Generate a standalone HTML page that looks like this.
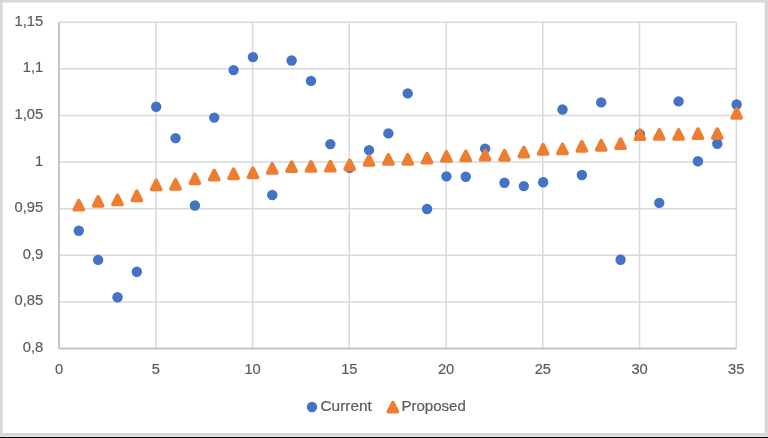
<!DOCTYPE html><html><head><meta charset="utf-8"><style>
html,body{margin:0;padding:0;background:#fff;}
svg{display:block;will-change:transform;}
text{font-family:"Liberation Sans",sans-serif;fill:#595959;font-size:15.5px;stroke:#595959;stroke-width:0.2px;}
</style></head><body>
<svg width="768" height="438" viewBox="0 0 768 438">
<rect x="0" y="0" width="768" height="438" fill="#d8d8d8"/>
<rect x="0" y="437" width="768" height="1" fill="#000"/>
<rect x="0" y="436" width="768" height="1" fill="#e8e8e8"/>
<rect x="2" y="2" width="763" height="431" fill="#e8e8e8"/>
<rect x="3" y="3" width="762" height="430" fill="#f4f4f4"/>
<rect x="3" y="3" width="761" height="430" fill="#fff"/>
<path d="M59.10 22.20H736.30M59.10 68.81H736.30M59.10 115.43H736.30M59.10 162.04H736.30M59.10 208.66H736.30M59.10 255.27H736.30M59.10 301.89H736.30M59.10 348.50H736.30M59.10 22.20V348.50M155.84 22.20V348.50M252.59 22.20V348.50M349.33 22.20V348.50M446.07 22.20V348.50M542.81 22.20V348.50M639.56 22.20V348.50M736.30 22.20V348.50" stroke="#d9d9d9" stroke-width="1.5" fill="none"/>
<path d="M59.10 22.20V348.50H736.30" stroke="#bfbfbf" stroke-width="1.5" fill="none"/>
<g opacity="0.99">
<text x="43.2" y="25.80" text-anchor="end" textLength="28.65" lengthAdjust="spacingAndGlyphs">1,15</text>
<text x="43.2" y="72.41" text-anchor="end" textLength="20.47" lengthAdjust="spacingAndGlyphs">1,1</text>
<text x="43.2" y="119.03" text-anchor="end" textLength="28.65" lengthAdjust="spacingAndGlyphs">1,05</text>
<text x="43.2" y="165.64" text-anchor="end" textLength="8.19" lengthAdjust="spacingAndGlyphs">1</text>
<text x="43.2" y="212.26" text-anchor="end" textLength="28.65" lengthAdjust="spacingAndGlyphs">0,95</text>
<text x="43.2" y="258.87" text-anchor="end" textLength="20.47" lengthAdjust="spacingAndGlyphs">0,9</text>
<text x="43.2" y="305.49" text-anchor="end" textLength="28.65" lengthAdjust="spacingAndGlyphs">0,85</text>
<text x="43.2" y="352.10" text-anchor="end" textLength="20.47" lengthAdjust="spacingAndGlyphs">0,8</text>
<text x="59.10" y="374.2" text-anchor="middle" textLength="8.19" lengthAdjust="spacingAndGlyphs">0</text>
<text x="155.84" y="374.2" text-anchor="middle" textLength="8.19" lengthAdjust="spacingAndGlyphs">5</text>
<text x="252.59" y="374.2" text-anchor="middle" textLength="16.37" lengthAdjust="spacingAndGlyphs">10</text>
<text x="349.33" y="374.2" text-anchor="middle" textLength="16.37" lengthAdjust="spacingAndGlyphs">15</text>
<text x="446.07" y="374.2" text-anchor="middle" textLength="16.37" lengthAdjust="spacingAndGlyphs">20</text>
<text x="542.81" y="374.2" text-anchor="middle" textLength="16.37" lengthAdjust="spacingAndGlyphs">25</text>
<text x="639.56" y="374.2" text-anchor="middle" textLength="16.37" lengthAdjust="spacingAndGlyphs">30</text>
<text x="736.30" y="374.2" text-anchor="middle" textLength="16.37" lengthAdjust="spacingAndGlyphs">35</text>
</g>
<g fill="#4472c4"><circle cx="78.80" cy="230.70" r="5.20"/><circle cx="98.15" cy="259.90" r="5.20"/><circle cx="117.50" cy="297.30" r="5.20"/><circle cx="136.84" cy="271.80" r="5.20"/><circle cx="156.19" cy="106.80" r="5.20"/><circle cx="175.54" cy="138.10" r="5.20"/><circle cx="194.89" cy="205.50" r="5.20"/><circle cx="214.24" cy="117.60" r="5.20"/><circle cx="233.59" cy="70.10" r="5.20"/><circle cx="252.94" cy="57.10" r="5.20"/><circle cx="272.28" cy="195.00" r="5.20"/><circle cx="291.63" cy="60.50" r="5.20"/><circle cx="310.98" cy="80.90" r="5.20"/><circle cx="330.33" cy="144.10" r="5.20"/><circle cx="349.68" cy="167.90" r="5.20"/><circle cx="369.03" cy="150.10" r="5.20"/><circle cx="388.38" cy="133.40" r="5.20"/><circle cx="407.72" cy="93.40" r="5.20"/><circle cx="427.07" cy="209.00" r="5.20"/><circle cx="446.42" cy="176.40" r="5.20"/><circle cx="465.77" cy="176.70" r="5.20"/><circle cx="485.12" cy="148.60" r="5.20"/><circle cx="504.47" cy="182.70" r="5.20"/><circle cx="523.82" cy="186.10" r="5.20"/><circle cx="543.16" cy="182.30" r="5.20"/><circle cx="562.51" cy="109.50" r="5.20"/><circle cx="581.86" cy="175.00" r="5.20"/><circle cx="601.21" cy="102.40" r="5.20"/><circle cx="620.56" cy="259.80" r="5.20"/><circle cx="639.91" cy="134.20" r="5.20"/><circle cx="659.26" cy="202.90" r="5.20"/><circle cx="678.60" cy="101.40" r="5.20"/><circle cx="697.95" cy="161.30" r="5.20"/><circle cx="717.30" cy="143.70" r="5.20"/><circle cx="736.65" cy="104.50" r="5.20"/></g>
<g fill="#ed7d31" stroke="#ed7d31" stroke-width="3.80" stroke-linejoin="round"><polygon points="78.80,200.75 83.25,209.65 74.35,209.65"/><polygon points="98.15,196.95 102.60,205.85 93.70,205.85"/><polygon points="117.50,195.55 121.95,204.45 113.05,204.45"/><polygon points="136.84,191.35 141.29,200.25 132.39,200.25"/><polygon points="156.19,180.55 160.64,189.45 151.74,189.45"/><polygon points="175.54,180.05 179.99,188.95 171.09,188.95"/><polygon points="194.89,174.35 199.34,183.25 190.44,183.25"/><polygon points="214.24,170.65 218.69,179.55 209.79,179.55"/><polygon points="233.59,169.35 238.04,178.25 229.14,178.25"/><polygon points="252.94,168.35 257.39,177.25 248.49,177.25"/><polygon points="272.28,164.05 276.73,172.95 267.83,172.95"/><polygon points="291.63,162.25 296.08,171.15 287.18,171.15"/><polygon points="310.98,162.05 315.43,170.95 306.53,170.95"/><polygon points="330.33,161.75 334.78,170.65 325.88,170.65"/><polygon points="349.68,160.45 354.13,169.35 345.23,169.35"/><polygon points="369.03,156.05 373.48,164.95 364.58,164.95"/><polygon points="388.38,155.05 392.83,163.95 383.93,163.95"/><polygon points="407.72,154.85 412.17,163.75 403.27,163.75"/><polygon points="427.07,153.75 431.52,162.65 422.62,162.65"/><polygon points="446.42,152.05 450.87,160.95 441.97,160.95"/><polygon points="465.77,151.55 470.22,160.45 461.32,160.45"/><polygon points="485.12,150.75 489.57,159.65 480.67,159.65"/><polygon points="504.47,150.85 508.92,159.75 500.02,159.75"/><polygon points="523.82,147.65 528.27,156.55 519.37,156.55"/><polygon points="543.16,144.85 547.61,153.75 538.71,153.75"/><polygon points="562.51,144.55 566.96,153.45 558.06,153.45"/><polygon points="581.86,141.95 586.31,150.85 577.41,150.85"/><polygon points="601.21,140.85 605.66,149.75 596.76,149.75"/><polygon points="620.56,139.15 625.01,148.05 616.11,148.05"/><polygon points="639.91,130.15 644.36,139.05 635.46,139.05"/><polygon points="659.26,130.05 663.71,138.95 654.81,138.95"/><polygon points="678.60,130.05 683.05,138.95 674.15,138.95"/><polygon points="697.95,129.25 702.40,138.15 693.50,138.15"/><polygon points="717.30,129.15 721.75,138.05 712.85,138.05"/><polygon points="736.65,108.95 741.10,117.85 732.20,117.85"/></g>
<circle cx="312" cy="407" r="5.20" fill="#4472c4"/>
<g opacity="0.99"><text x="320.5" y="411.2" textLength="51.3" lengthAdjust="spacingAndGlyphs">Current</text></g>
<polygon points="392.90,402.75 397.35,411.65 388.45,411.65" fill="#ed7d31" stroke="#ed7d31" stroke-width="3.80" stroke-linejoin="round"/>
<g opacity="0.99"><text x="401.5" y="411.2" textLength="64.3" lengthAdjust="spacingAndGlyphs">Proposed</text></g>
</svg></body></html>
